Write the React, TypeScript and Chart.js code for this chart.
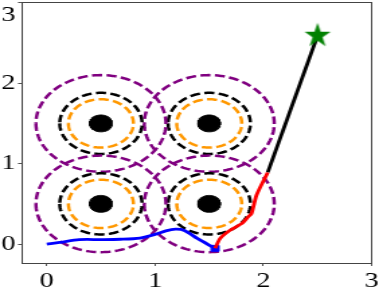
import React, { useEffect, useRef } from 'react';
import { Chart, registerables } from 'chart.js';

Chart.register(...registerables);

// ---- data ----
const obstacleX = [0.5, 1.5, 0.5, 1.5];
const obstacleY = [0.5, 0.5, 1.5, 1.5];
const coreRadius = 0.105;
const ringRadii = [0.3, 0.38, 0.6];
const ringColors = ['#ff9800', '#000000', '#800080'];

const blueX = [0, 0.12, 0.3, 0.5, 0.68, 0.86, 1.0, 1.1, 1.19, 1.27, 1.39, 1.554];
const blueY = [0, 0.02, 0.055, 0.056, 0.06, 0.075, 0.12, 0.165, 0.185, 0.17, 0.07, -0.053];

const redX = [1.554, 1.6, 1.692, 1.8, 1.86, 1.89, 1.936, 2.04];
const redY = [-0.053, 0.07, 0.173, 0.256, 0.34, 0.38, 0.607, 0.89];

const blackX = [2.04, 2.5];
const blackY = [0.89, 2.59];

const goalX = [2.5];
const goalY = [2.59];

const xTicks = [0, 1, 2, 3];
const xLabels = ['0', '1', '2', '3'];
const yTicks = [0, 1, 2, 3];
const yLabels = ['0', '1', '2', '3'];

const X_MIN = -0.228;
const X_MAX = 3;
const Y_MIN = -0.235;
const Y_MAX = 3;

// ---- layout ----
const CANVAS_W = 282;
const CANVAS_H = 292;
const STRETCH = 379 / CANVAS_W;
const FONT = 'Liberation Serif';

function ringPoints(cx: number, cy: number, r: number) {
  const pts: { x: number; y: number }[] = [];
  const n = 140;
  for (let k = 0; k <= n; k++) {
    const a = Math.PI + (2 * Math.PI * k) / n;
    pts.push({ x: cx + r * Math.cos(a), y: cy + r * Math.sin(a) });
  }
  return pts;
}

function zipXY(xs: number[], ys: number[]) {
  return xs.map((x, i) => ({ x, y: ys[i] }));
}

function makeStar(color: string, rOuter: number, sx: number) {
  const c = document.createElement('canvas');
  const size = Math.ceil(2 * rOuter + 4);
  c.width = size;
  c.height = size;
  const g = c.getContext('2d')!;
  g.translate(size / 2, size / 2);
  g.scale(sx, 1);
  const rInner = rOuter * 0.381966;
  g.beginPath();
  for (let i = 0; i < 10; i++) {
    const rad = i % 2 === 0 ? rOuter : rInner;
    const a = -Math.PI / 2 + (i * Math.PI) / 5;
    const px = rad * Math.cos(a);
    const py = rad * Math.sin(a);
    if (i === 0) g.moveTo(px, py);
    else g.lineTo(px, py);
  }
  g.closePath();
  g.fillStyle = color;
  g.fill();
  return c;
}

function zeroPad(s: any) {
  s.paddingLeft = 0;
  s.paddingRight = 0;
  s.paddingTop = 0;
  s.paddingBottom = 0;
}

export default function App() {
  const ref = useRef<HTMLCanvasElement | null>(null);

  useEffect(() => {
    if (!ref.current) return;
    const datasets: any[] = [];

    // rings
    obstacleX.forEach((cx, i) => {
      const cy = obstacleY[i];
      ringRadii.forEach((r, j) => {
        datasets.push({
          data: ringPoints(cx, cy, r),
          showLine: true,
          pointRadius: 0,
          borderColor: ringColors[j],
          borderWidth: 2.5,
          borderDash: [7.5, 3.3],
          fill: false,
          tension: 0,
          order: 10,
        });
      });
      datasets.push({
        data: ringPoints(cx, cy, coreRadius),
        showLine: true,
        pointRadius: 0,
        borderColor: '#000000',
        borderWidth: 1,
        backgroundColor: '#000000',
        fill: 'shape',
        tension: 0,
        order: 9,
      });
    });

    datasets.push({
      data: zipXY(blueX, blueY),
      showLine: true,
      pointRadius: 0,
      borderColor: '#0000ff',
      borderWidth: 2.8,
      tension: 0.3,
      fill: false,
      order: 4,
    });
    datasets.push({
      data: [{ x: blueX[blueX.length - 1], y: blueY[blueY.length - 1] }],
      showLine: false,
      pointStyle: 'rect',
      pointRadius: 4.2,
      pointBackgroundColor: '#0000ff',
      pointBorderColor: '#0000ff',
      order: 3,
    });
    datasets.push({
      data: zipXY(redX, redY),
      showLine: true,
      pointRadius: 0,
      borderColor: '#ff0000',
      borderWidth: 2.8,
      tension: 0.2,
      fill: false,
      order: 2,
    });
    datasets.push({
      data: zipXY(blackX, blackY),
      showLine: true,
      pointRadius: 0,
      borderColor: '#000000',
      borderWidth: 2.8,
      tension: 0,
      fill: false,
      order: 2,
    });
    datasets.push({
      data: zipXY(goalX, goalY),
      showLine: false,
      pointStyle: makeStar('#008000', 12.9, 0.79),
      pointRadius: 10,
      order: 1,
    });

    const tickFont = { family: FONT, size: 21 };

    const chart = new Chart(ref.current, {
      type: 'scatter',
      data: { datasets },
      options: {
        responsive: false,
        devicePixelRatio: 1,
        animation: false,
        layout: { autoPadding: false, padding: { left: 0.4, right: 5.4, top: 2.7, bottom: 0 } },
        plugins: { legend: { display: false }, tooltip: { enabled: false } },
        scales: {
          x: {
            type: 'linear',
            position: 'bottom',
            min: X_MIN,
            max: X_MAX,
            afterBuildTicks: (s: any) => {
              s.ticks = xTicks.map((v) => ({ value: v }));
            },
            afterFit: (s: any) => {
              s.height = 29;
              zeroPad(s);
            },
            ticks: {
              callback: (v: any) => xLabels[xTicks.indexOf(Number(v))],
              font: { ...tickFont, lineHeight: 1 },
              color: '#000000',
              padding: 5,
              maxRotation: 0,
              autoSkip: false,
            },
            grid: { display: true, drawOnChartArea: false, drawTicks: true, tickLength: 3, color: '#555555' },
            border: { display: true, color: '#444444', width: 1 },
          },
          xTop: {
            type: 'linear',
            position: 'top',
            min: X_MIN,
            max: X_MAX,
            display: true,
            afterFit: (s: any) => {
              s.height = 0;
              zeroPad(s);
            },
            ticks: { display: false },
            grid: { display: false, drawTicks: false },
            border: { display: true, color: '#444444', width: 1 },
          },
          y: {
            type: 'linear',
            position: 'left',
            min: Y_MIN,
            max: Y_MAX,
            afterBuildTicks: (s: any) => {
              s.ticks = yTicks.map((v) => ({ value: v }));
            },
            afterFit: (s: any) => {
              s.width = 16;
              zeroPad(s);
            },
            ticks: {
              callback: (v: any) => {
                const idx = yTicks.indexOf(Number(v));
                const lab = yLabels[idx];
                return idx === yTicks.length - 1 ? ['', lab] : lab;
              },
              font: { ...tickFont, lineHeight: 1.2 },
              color: '#000000',
              padding: 2,
              autoSkip: false,
            },
            grid: { display: true, drawOnChartArea: false, drawTicks: true, tickLength: 3, color: '#555555' },
            border: { display: true, color: '#444444', width: 1 },
          },
          yRight: {
            type: 'linear',
            position: 'right',
            min: Y_MIN,
            max: Y_MAX,
            display: true,
            afterFit: (s: any) => {
              s.width = 0;
              zeroPad(s);
            },
            ticks: { display: false },
            grid: { display: false, drawTicks: false },
            border: { display: true, color: '#444444', width: 1 },
          },
        },
      } as any,
    });
    return () => chart.destroy();
  }, []);

  return (
    <div
      style={{
        position: 'fixed',
        left: 0,
        top: 0,
        width: 379,
        height: CANVAS_H,
        overflow: 'hidden',
        background: '#ffffff',
      }}
    >
      <canvas
        ref={ref}
        width={CANVAS_W}
        height={CANVAS_H}
        style={{
          display: 'block',
          width: CANVAS_W,
          height: CANVAS_H,
          transform: `scaleX(${STRETCH})`,
          transformOrigin: '0 0',
        }}
      />
    </div>
  );
}
